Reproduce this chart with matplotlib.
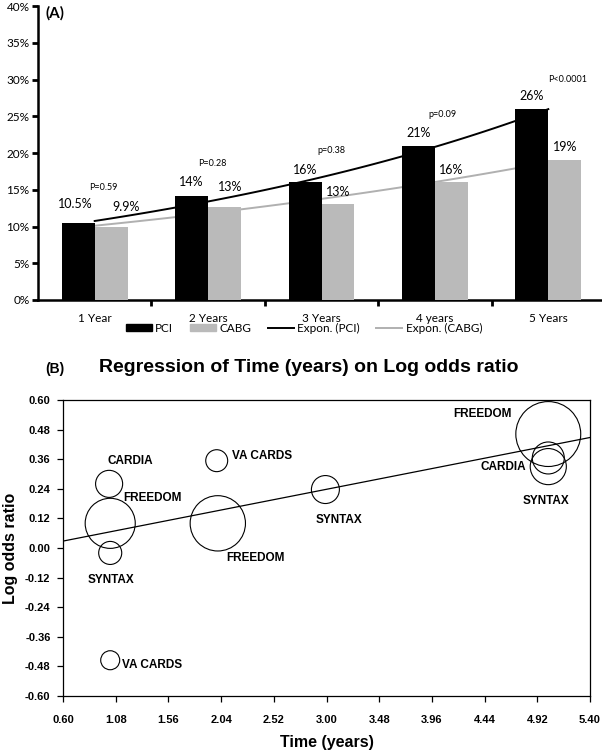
import numpy as np
import matplotlib
matplotlib.use('Agg')
import matplotlib.pyplot as plt
from matplotlib.patches import Patch
from matplotlib.lines import Line2D
from matplotlib.ticker import FuncFormatter, MultipleLocator

# ---- panel A data ----
years = ['1 Year', '2 Years', '3 Years', '4 years', '5 Years']
pci = [10.5, 14.2, 16.0, 21.0, 26.0]
cabg = [9.9, 12.6, 13.0, 16.0, 19.0]
pci_text = ['10.5%', '14%', '16%', '21%', '26%']
cabg_text = ['9.9%', '13%', '13%', '16%', '19%']
p_text = ['P=0.59', 'P=0.28', 'p=0.38', 'p=0.09', 'P<0.0001']

# ---- panel B data ----
study = ['CARDIA', 'FREEDOM', 'SYNTAX', 'VA CARDS', 'VA CARDS', 'FREEDOM',
         'SYNTAX', 'FREEDOM', 'CARDIA', 'SYNTAX']
time_yr = [1.02, 1.03, 1.03, 1.03, 2.00, 2.01, 2.99, 5.02, 5.02, 5.02]
log_or = [0.26, 0.10, -0.02, -0.455, 0.354, 0.10, 0.237, 0.462, 0.365, 0.33]
weight = [7.3, 25.0, 5.3, 3.6, 4.8, 30.5, 7.8, 42.0, 10.2, 13.0]
reg_intercept = -0.0245
reg_slope = 0.0875

fig = plt.figure(figsize=(6.02, 7.55), dpi=100)
W, H = 602.0, 755.0

# ================= panel A =================
afont = ['Lato', 'DejaVu Sans']
ax = fig.add_axes([38 / W, 1 - 300 / H, 567 / W, 294 / H])
x = np.arange(len(years))
bw = 0.29
ax.bar(x - bw / 2, pci, bw, color='black', zorder=3)
ax.bar(x + bw / 2, cabg, bw, color='#bababa', zorder=3)

# exponential trend lines
xs = np.linspace(0, 4, 100)
k1 = np.polyfit(x + 1, np.log(pci), 1)
k2 = np.polyfit(x + 1, np.log(cabg), 1)
ax.plot(xs, np.exp(np.polyval(k1, xs + 1)), color='black', lw=1.4, zorder=2)
ax.plot(xs, np.exp(np.polyval(k2, xs + 1)), color='#b0b0b0', lw=1.4, zorder=2)

pci_dx = [-0.03, 0, 0, 0, 0]
pci_dy = [2.5, 1.8, 1.7, 1.7, 1.7]
cabg_dx = [0.13, 0.05, 0, 0, 0]
cabg_dy = [2.7, 2.8, 1.75, 1.7, 1.8]
p_dx = [0.08, 0.04, 0.085, 0.065, 0.17]
p_y = [15.3, 18.6, 20.4, 25.2, 30.0]
for i in range(len(years)):
    ax.text(x[i] - bw / 2 + pci_dx[i], pci[i] + pci_dy[i], pci_text[i],
            ha='center', va='center', fontsize=9, family=afont)
    ax.text(x[i] + bw / 2 + cabg_dx[i], cabg[i] + cabg_dy[i], cabg_text[i],
            ha='center', va='center', fontsize=9, family=afont)
    ax.text(x[i] + p_dx[i], p_y[i], p_text[i], ha='center', va='center',
            fontsize=6.5, family=afont)

ax.set_xlim(-0.5, 4.5)
ax.set_ylim(0, 40)
ax.yaxis.set_major_locator(MultipleLocator(5))
ax.yaxis.set_major_formatter(FuncFormatter(lambda v, p: '%d%%' % v))
ax.set_xticks(x)
ax.set_xticklabels(years)
ax.set_xticks(np.arange(0.5, 4.0, 1.0), minor=True)
ax.tick_params(axis='x', which='major', length=0, pad=9)
ax.tick_params(axis='x', which='minor', length=4, width=2, direction='out')
ax.tick_params(axis='y', length=4, width=2, direction='out', pad=2)
for lab in ax.get_xticklabels() + ax.get_yticklabels():
    lab.set_family(afont)
    lab.set_fontsize(8.5)
for s in ['top', 'right']:
    ax.spines[s].set_visible(False)
for s in ['left', 'bottom']:
    ax.spines[s].set_linewidth(1.8)
ax.text(0.013, 0.975, '(A)', transform=ax.transAxes, fontsize=11,
        fontweight='bold', family=afont, va='center', ha='left')

handles = [Patch(color='black'), Patch(color='#bababa'),
           Line2D([], [], color='black', lw=1.4),
           Line2D([], [], color='#b0b0b0', lw=1.4)]
fig.legend(handles, ['PCI', 'CABG', 'Expon. (PCI)', 'Expon. (CABG)'],
           loc='center', bbox_to_anchor=(0.505, 1 - 328 / H), ncol=4,
           frameon=False, prop={'family': afont, 'size': 8.5},
           handlelength=2.2, handleheight=0.55, handletextpad=0.3,
           columnspacing=1.4, borderpad=0)

# ================= panel B =================
bfont = ['Liberation Sans', 'DejaVu Sans']
bx = fig.add_axes([63 / W, 1 - 696 / H, 527 / W, 296 / H])
bx.scatter(time_yr, log_or, s=np.array(weight) * 52, facecolors='none',
           edgecolors='black', linewidths=0.8, zorder=3)
xl = np.array([0.6, 5.4])
bx.plot(xl, reg_intercept + reg_slope * xl, color='black', lw=0.9, zorder=2)

label_xy = [(1.216, 0.352), (1.417, 0.204), (1.035, -0.128), (1.41, -0.476),
            (2.416, 0.373), (2.357, -0.04), (3.115, 0.113), (4.416, 0.543),
            (4.607, 0.329), (5.0, 0.191)]
for name, (lx, ly) in zip(study, label_xy):
    bx.text(lx, ly, name, ha='center', va='center', fontsize=8.5,
            fontweight='bold', family=bfont)

bx.set_xlim(0.6, 5.4)
bx.set_ylim(-0.6, 0.6)
bx.set_xticks(np.arange(0.6, 5.41, 0.48))
bx.set_yticks(np.arange(-0.6, 0.61, 0.12))
bx.xaxis.set_major_formatter(FuncFormatter(lambda v, p: '%.2f' % v))
bx.yaxis.set_major_formatter(FuncFormatter(lambda v, p: '%.2f' % (v + 0.0)))
bx.tick_params(axis='both', length=4, width=0.9, direction='out')
bx.tick_params(axis='x', pad=10)
bx.tick_params(axis='y', pad=5)
for lab in bx.get_xticklabels() + bx.get_yticklabels():
    lab.set_family(bfont)
    lab.set_fontsize(8)
    lab.set_fontweight('bold')
for s in bx.spines.values():
    s.set_linewidth(0.9)
bx.set_xlabel('Time (years)', fontsize=11.5, fontweight='bold', family=bfont,
              labelpad=7)
bx.set_ylabel('Log odds ratio', fontsize=11.5, fontweight='bold', family=bfont,
              labelpad=5)

fig.text(55 / W, 1 - 369 / H, '(B)', ha='center', va='center', fontsize=10,
         fontweight='bold', family=bfont)
fig.text(309 / W, 1 - 368 / H, 'Regression of Time (years) on Log odds ratio',
         ha='center', va='center', fontsize=14, fontweight='bold', family=bfont)

fig.savefig('out.png', dpi=100)
